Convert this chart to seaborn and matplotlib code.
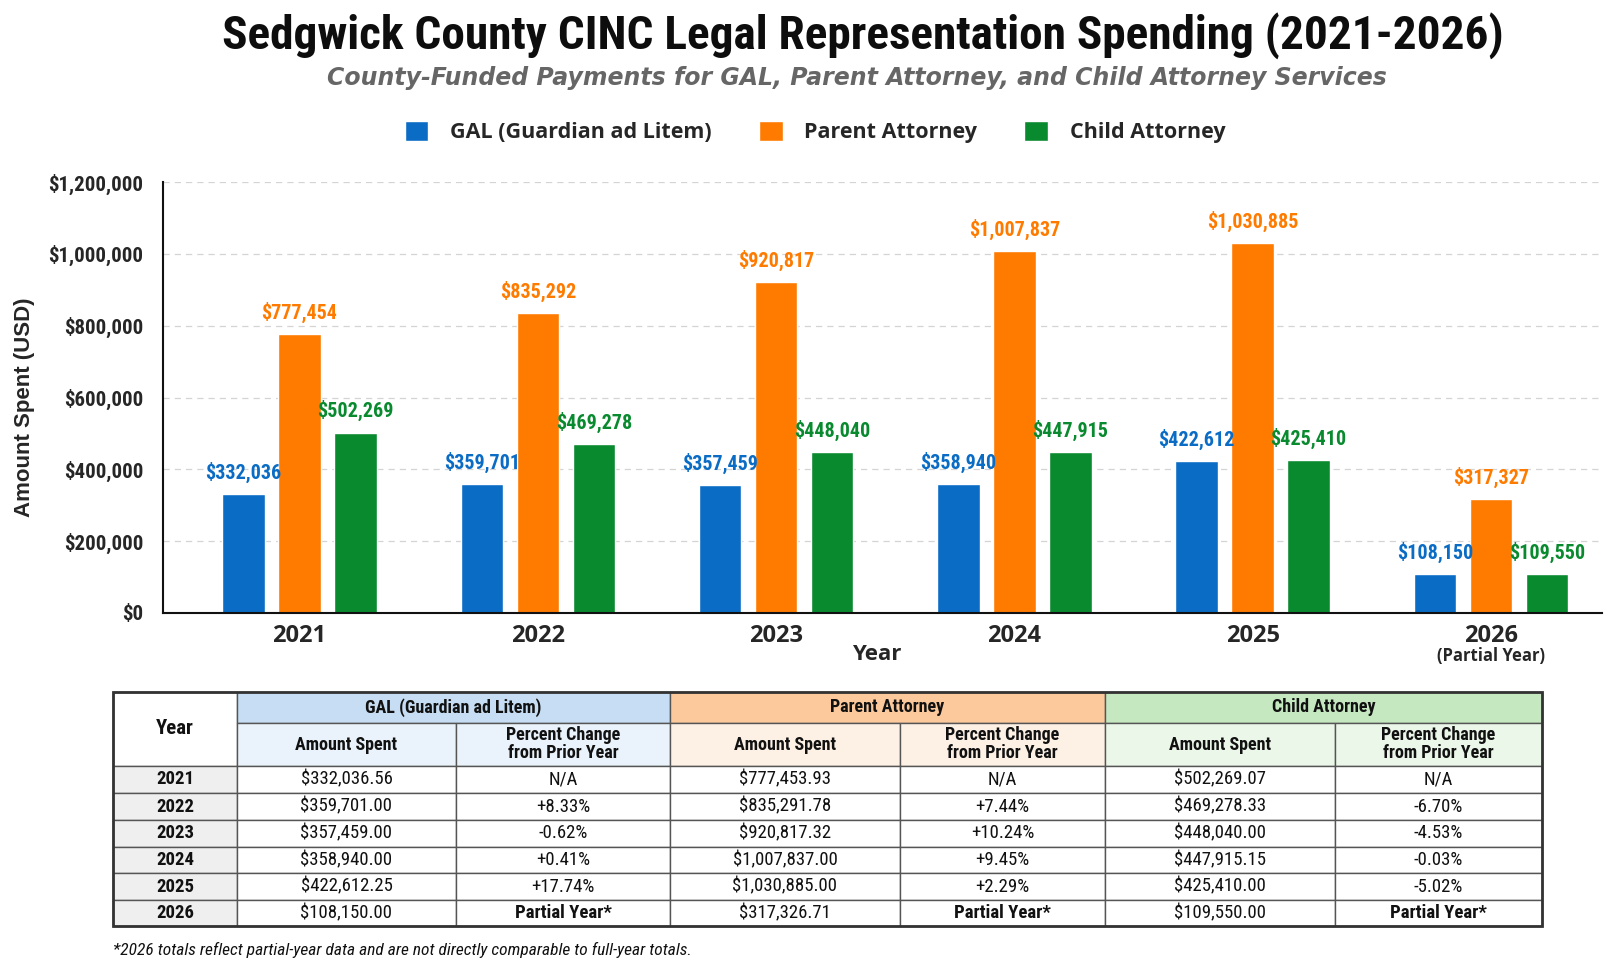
import matplotlib
matplotlib.use("Agg")
import matplotlib.pyplot as plt
import matplotlib.ticker as mticker
from matplotlib import font_manager
from matplotlib.patches import Rectangle
import seaborn as sns
import pandas as pd

# chart data
years = ["2021", "2022", "2023", "2024", "2025", "2026"]
series = ["GAL (Guardian ad Litem)", "Parent Attorney", "Child Attorney"]
gal = [332036.56, 359701.00, 357459.00, 358940.00, 422612.25, 108150.00]
parent = [777453.93, 835291.78, 920817.32, 1007837.00, 1030885.00, 317326.71]
child = [502269.07, 469278.33, 448040.00, 447915.15, 425410.00, 109550.00]
gal_labels = ["$332,036", "$359,701", "$357,459", "$358,940", "$422,612", "$108,150"]
parent_labels = ["$777,454", "$835,292", "$920,817", "$1,007,837", "$1,030,885", "$317,327"]
child_labels = ["$502,269", "$469,278", "$448,040", "$447,915", "$425,410", "$109,550"]
gal_pct = ["N/A", "+8.33%", "-0.62%", "+0.41%", "+17.74%", "Partial Year*"]
parent_pct = ["N/A", "+7.44%", "+10.24%", "+9.45%", "+2.29%", "Partial Year*"]
child_pct = ["N/A", "-6.70%", "-4.53%", "-0.03%", "-5.02%", "Partial Year*"]
colors = ["#0a6cc4", "#ff7b00", "#0a8a2f"]


def pick(names):
    for n in names:
        try:
            font_manager.findfont(n, fallback_to_default=False)
            return n
        except ValueError:
            pass
    return "DejaVu Sans"


sns.set_style("white")
narrow = pick(["Liberation Sans Narrow", "Roboto Condensed", "Liberation Sans"])
sans = pick(["Liberation Sans", "Roboto", "DejaVu Sans"])
opensans = pick(["Open Sans", "Lato", "DejaVu Sans"])
plt.rcParams["font.family"] = [sans, "DejaVu Sans"]

df = pd.DataFrame({
    "Year": years * 3,
    "Amount": gal + parent + child,
    "Series": [s for s in series for _ in years],
})

W, H = 1624, 969
fig = plt.figure(figsize=(W / 100, H / 100), dpi=100)
ax = fig.add_axes([163 / W, 1 - 613 / H, (1602 - 163) / W, (613 - 182) / H])

sns.barplot(data=df, x="Year", y="Amount", hue="Series", palette=colors,
            width=0.705, gap=0.243, saturation=1, ax=ax, legend=True)

# value labels
for cont, labs, col in zip(ax.containers, [gal_labels, parent_labels, child_labels], colors):
    for bar, lab in zip(cont, labs):
        ax.annotate(lab, (bar.get_x() + bar.get_width() / 2, bar.get_height()),
                    xytext=(0, 8), textcoords="offset points", ha="center", va="bottom",
                    color=col, fontsize=14.5, fontweight="bold", family=narrow)

ax.set_xlim(-0.573, 5.466)
ax.set_ylim(0, 1200000)
ax.yaxis.set_major_locator(mticker.MultipleLocator(200000))
ax.yaxis.set_major_formatter(mticker.StrMethodFormatter("${x:,.0f}"))
ax.grid(axis="y", color="#d4d4d4", linestyle=(0, (5, 4)), linewidth=0.9)
ax.set_axisbelow(True)
for s in ["top", "right"]:
    ax.spines[s].set_visible(False)
for s in ["left", "bottom"]:
    ax.spines[s].set_color("#111111")
    ax.spines[s].set_linewidth(1.5)
ax.tick_params(axis="y", length=8, width=1, color="#111111", pad=6)
ax.tick_params(axis="x", length=0, pad=8)
for t in ax.get_yticklabels():
    t.set_fontfamily(narrow)
    t.set_fontweight("bold")
    t.set_fontsize(15)
for t in ax.get_xticklabels():
    t.set_fontfamily(opensans)
    t.set_fontweight("bold")
    t.set_fontsize(17)
ax.text(5, -0.1, "(Partial Year)", transform=ax.get_xaxis_transform(),
        ha="center", va="center", fontsize=12, fontweight="bold", family=opensans)

ax.set_xlabel("Year", fontsize=16, fontweight="bold", family=opensans)
ax.xaxis.set_label_coords((877 - 163) / 1439, -0.097)
ax.xaxis.label.set_va("center")
ax.set_ylabel("Amount Spent (USD)", fontsize=16, fontweight="bold")
ax.yaxis.set_label_coords((25 - 163) / 1439, 0.478)
ax.yaxis.label.set_va("center")

handles, labels = ax.get_legend_handles_labels()
ax.get_legend().remove()
fig.legend(handles, labels, loc="center", bbox_to_anchor=(815 / W, 1 - 132 / H), ncol=3,
           frameon=False, handlelength=1.1, handleheight=1.1, handletextpad=1.0,
           columnspacing=2.2, prop={"family": opensans, "weight": "bold", "size": 15.5})

fig.text(863 / W, 1 - 36 / H, "Sedgwick County CINC Legal Representation Spending (2021-2026)",
         ha="center", va="center", fontsize=34, fontweight="bold", family=narrow, color="#0d0d0d")
fig.text(857 / W, 1 - 78 / H,
         "County-Funded Payments for GAL, Parent Attorney, and Child Attorney Services",
         ha="center", va="center", fontsize=17, fontweight="bold", style="italic",
         family="DejaVu Sans", color="#666666")

# table below the chart
tx = fig.add_axes([0, 0, 1, 1], zorder=-1)
tx.set_xlim(0, W)
tx.set_ylim(H, 0)
tx.axis("off")
cols = [113, 237, 456, 670, 900, 1105, 1335, 1542]
rows = [692, 723, 766, 793, 820, 847, 873, 900, 926]
top_fill = ["#c6ddf3", "#fcc99c", "#c5e8c0"]
sub_fill = ["#eaf3fb", "#fdf1e6", "#ebf7e9"]


def cell(x0, x1, y0, y1, fc):
    tx.add_patch(Rectangle((x0, y0), x1 - x0, y1 - y0, facecolor=fc,
                           edgecolor="#555555", linewidth=1))


def put(x0, x1, y0, y1, s, size=13.5, weight="normal", fam=narrow):
    tx.text((x0 + x1) / 2, (y0 + y1) / 2, s, ha="center", va="center",
            fontsize=size, fontweight=weight, family=fam, color="#111111", linespacing=1.0)


cell(cols[0], cols[1], rows[0], rows[2], "white")
put(cols[0], cols[1], rows[0], rows[2], "Year", size=15, weight="bold")
for g in range(3):
    a, b, c = cols[1 + 2 * g], cols[2 + 2 * g], cols[3 + 2 * g]
    cell(a, c, rows[0], rows[1], top_fill[g])
    put(a, c, rows[0], rows[1], series[g], size=13, weight="bold")
    cell(a, b, rows[1], rows[2], sub_fill[g])
    put(a, b, rows[1], rows[2], "Amount Spent", size=13, weight="bold")
    cell(b, c, rows[1], rows[2], sub_fill[g])
    put(b, c, rows[1], rows[2], "Percent Change\nfrom Prior Year", size=13, weight="bold")

amounts = [gal, parent, child]
pcts = [gal_pct, parent_pct, child_pct]
for i, yr in enumerate(years):
    y0, y1 = rows[2 + i], rows[3 + i]
    cell(cols[0], cols[1], y0, y1, "#efefef")
    put(cols[0], cols[1], y0, y1, yr, weight="bold")
    for g in range(3):
        a, b, c = cols[1 + 2 * g], cols[2 + 2 * g], cols[3 + 2 * g]
        cell(a, b, y0, y1, "white")
        put(a, b, y0, y1, f"${amounts[g][i]:,.2f}")
        cell(b, c, y0, y1, "white")
        p = pcts[g][i]
        put(b, c, y0, y1, p, weight="bold" if p.startswith("Partial") else "normal")

tx.add_patch(Rectangle((cols[0], rows[0]), cols[-1] - cols[0], rows[-1] - rows[0],
                       facecolor="none", edgecolor="#333333", linewidth=2))

fig.text(113 / W, 1 - 950 / H,
         "*2026 totals reflect partial-year data and are not directly comparable to full-year totals.",
         ha="left", va="center", fontsize=12.5, style="italic", family=narrow, color="#111111")

fig.savefig("out.png", dpi=100, facecolor="white")
